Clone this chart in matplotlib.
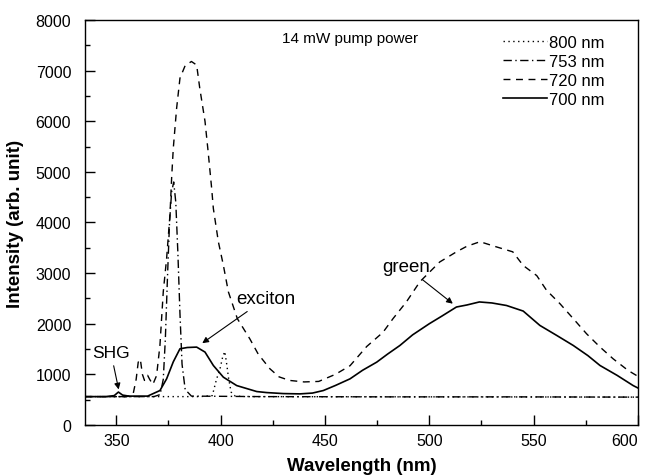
"""
PL spectra under different excitation wavelengths (14 mW pump power).
"""
import matplotlib
matplotlib.use('Agg')
import matplotlib.pyplot as plt

# 700 nm excitation (solid)
wl_700 = [335, 345, 349, 351, 353, 356, 365, 370.9, 374.1, 377.3, 380.5, 384,
          388.5, 392.5, 396.5, 401.3, 407.7, 417.3, 422, 430, 438, 444, 449.2,
          455, 462, 468, 474.8, 480, 485.9, 492, 500, 506, 513, 518, 524, 530,
          537, 545, 553, 561, 569, 576, 581.8, 590, 597.7, 600]
i_700 = [560, 560, 580, 650, 590, 570, 570, 680, 911, 1247, 1505, 1530,
         1538, 1440, 1175, 944, 778, 660, 640, 620, 614, 630, 680,
         780, 911, 1080, 1241, 1400, 1570, 1780, 2000, 2150, 2330, 2370, 2430, 2410,
         2360, 2250, 1966, 1770, 1570, 1370, 1175, 980, 778, 730]

# 720 nm excitation (dashed)
wl_720 = [335, 355, 358, 359.5, 360.5, 361.5, 362.5, 363.5, 365, 366, 367.5,
          369.3, 370.9, 372.5, 374.1, 375.7, 376.5, 377.3, 378.9, 380.5, 383,
          386, 388.5, 390, 392.5, 394, 395.7, 396.5, 398.9, 401.3, 403.7, 408,
          414, 418, 423.6, 428, 433, 440, 447, 455, 462, 470, 477.8, 482.6, 489,
          495.5, 505, 513, 518, 524.3, 532, 540, 545, 551.5, 556.2, 562.6, 569,
          575.4, 581.8, 588.1, 595.3, 600]
i_720 = [560, 560, 600, 900, 1240, 1300, 1000, 880, 980, 900, 800,
         976, 1570, 2630, 3287, 4145, 4870, 5465, 6257, 6850, 7100,
         7180, 7110, 6650, 6000, 5400, 4670, 4277, 3620, 3155, 2630, 2100,
         1700, 1400, 1110, 950, 880, 850, 860, 1000, 1170, 1550, 1830, 2100, 2430,
         2830, 3220, 3420, 3530, 3620, 3520, 3420, 3150, 2950, 2660, 2396, 2100,
         1800, 1540, 1307, 1076, 960]

# 753 nm excitation (dash-dot)
wl_753 = [335, 368, 371, 372.5, 373.5, 374.5, 375.5, 376.5, 377.5, 378.5,
          379.5, 380.5, 381.5, 383, 386, 420, 480, 540, 600]
i_753 = [560, 560, 600, 900, 1700, 2900, 4000, 4600, 4800, 4400,
         3400, 2200, 1200, 700, 570, 560, 555, 555, 550]

# 800 nm excitation (dotted)
wl_800 = [335, 390, 396, 398, 399.7, 401, 402, 403, 403.7, 405, 407, 412, 600]
i_800 = [560, 560, 580, 900, 1110, 1350, 1450, 1175, 950, 650, 570, 560, 550]

plt.rcParams['font.family'] = ['Liberation Sans', 'DejaVu Sans']

fig = plt.figure(figsize=(6.49, 4.77), dpi=100)
ax = fig.add_axes([0.131, 0.107, 0.852, 0.849])

ax.plot(wl_800, i_800, color='black', lw=1.0, linestyle=(0, (1, 2.5)), label='800 nm')
ax.plot(wl_753, i_753, color='black', lw=1.0, linestyle=(0, (6, 2.5, 1, 2.5)), label='753 nm')
ax.plot(wl_720, i_720, color='black', lw=1.0, linestyle=(0, (5, 4)), label='720 nm')
ax.plot(wl_700, i_700, color='black', lw=1.2, linestyle='-', label='700 nm')

ax.set_xlim(335, 600)
ax.set_ylim(0, 8000)
ax.set_xticks([350, 400, 450, 500, 550, 600])
ax.set_xticks([375, 425, 475, 525, 575], minor=True)
ax.set_yticks(range(0, 8001, 1000))
ax.set_yticks(range(500, 8000, 1000), minor=True)
ax.tick_params(which='both', direction='in', top=False, right=False, labelsize=11.5)
ax.tick_params(which='major', length=7, width=1)
ax.tick_params(which='minor', length=3.5, width=1)
ax.tick_params(axis='y', pad=10)
ax.tick_params(axis='x', pad=6)
ax.get_xticklabels()[-1].set_horizontalalignment('right')
for s in ax.spines.values():
    s.set_linewidth(1.0)

ax.set_xlabel('Wavelength (nm)', fontsize=13.5, fontweight='bold', labelpad=6)
ax.set_ylabel('Intensity (arb. unit)', fontsize=13.5, fontweight='bold', labelpad=8)

arrow = dict(arrowstyle='-|>', color='black', lw=0.8, mutation_scale=9)
ax.annotate('SHG', xy=(351.4, 648), xytext=(338.4, 1426), fontsize=12.5,
            ha='left', va='center', arrowprops=arrow)
ax.annotate('exciton', xy=(390.1, 1584), xytext=(421.5, 2495), fontsize=13.5,
            ha='center', va='center', arrowprops=arrow)
ax.annotate('green', xy=(512.3, 2362), xytext=(488.8, 3129), fontsize=13.5,
            ha='center', va='center', arrowprops=arrow)
ax.text(429.4, 7644, '14 mW pump power', fontsize=11, ha='left', va='center')

ax.legend(loc='upper left', bbox_to_anchor=(0.756, 0.964), frameon=False,
          fontsize=12, handlelength=2.64, handletextpad=0.1, labelspacing=0.25,
          borderpad=0, borderaxespad=0)

plt.savefig('out.png', dpi=100)
plt.close(fig)
